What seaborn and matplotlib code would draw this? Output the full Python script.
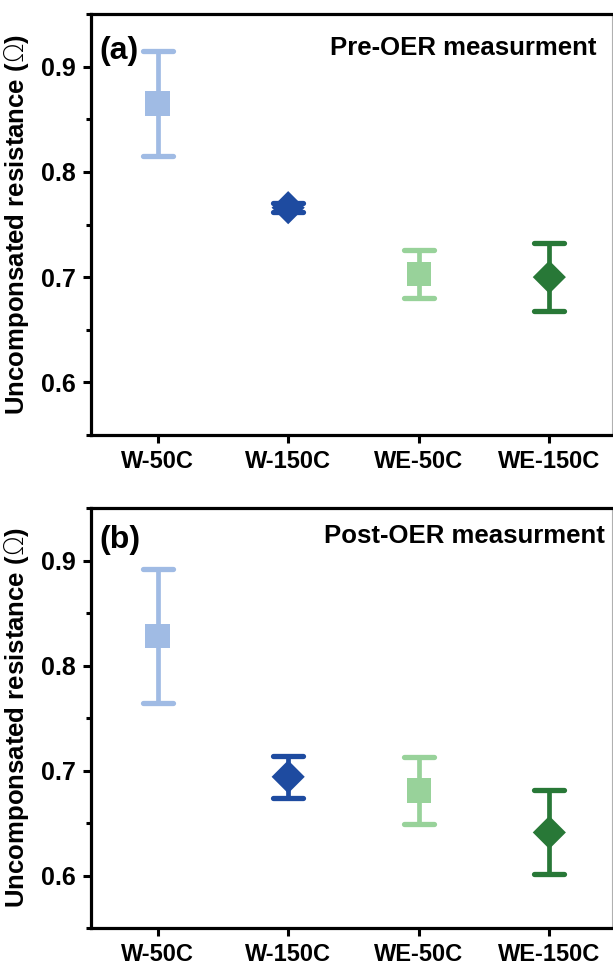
import matplotlib
matplotlib.use('Agg')
import matplotlib.pyplot as plt
import seaborn as sns
import pandas as pd
from matplotlib.markers import MarkerStyle
from matplotlib.ticker import MultipleLocator, FixedLocator

# ---- data ----
categories = ['W-50C', 'W-150C', 'WE-50C', 'WE-150C']
pre_mean = [0.865, 0.766, 0.703, 0.700]
pre_err = [0.050, 0.004, 0.023, 0.032]
post_mean = [0.828, 0.694, 0.681, 0.641]
post_err = [0.064, 0.020, 0.032, 0.040]
colors = ['#a0bbe4', '#1e4ba0', '#98d29a', '#287837']
markers = ['s', 'D', 's', 'D']
marker_area = [310, 285, 310, 285]
panel_labels = ['(a)', '(b)']
panel_titles = ['Pre-OER measurment', 'Post-OER measurment']
yticks = [0.6, 0.7, 0.8, 0.9]
ylabel = r'Uncomponsated resistance ($\mathrm{\Omega}$)'

sns.set_style('ticks')
plt.rcParams['font.family'] = ['Liberation Sans', 'DejaVu Sans']
plt.rcParams['font.weight'] = 'bold'
plt.rcParams['mathtext.fontset'] = 'custom'
plt.rcParams['mathtext.rm'] = 'DejaVu Sans:weight=light'
for k in ['text.color', 'axes.labelcolor', 'xtick.color', 'ytick.color', 'axes.edgecolor']:
    plt.rcParams[k] = 'black'

W, H = 613, 965
fig = plt.figure(figsize=(W / 100, H / 100), dpi=100)
ax1 = fig.add_axes([91 / W, 1 - 435 / H, (612 - 91) / W, (435 - 14) / H])
ax2 = fig.add_axes([91 / W, 1 - 928 / H, (612 - 91) / W, (928 - 508) / H])

panels = [
    (ax1, pre_mean, pre_err, panel_labels[0], panel_titles[0], (0.017, 0.913), (0.971, 0.919)),
    (ax2, post_mean, post_err, panel_labels[1], panel_titles[1], (0.017, 0.924), (0.987, 0.933)),
]

for ax, mean, err, plab, ptitle, plab_pos, ptitle_pos in panels:
    df = pd.DataFrame({'cat': categories, 'val': mean, 'err': err})
    sns.scatterplot(data=df, x='cat', y='val', hue='cat', style='cat', size='cat',
                    palette=colors, markers=markers,
                    sizes=dict(zip(categories, marker_area)),
                    linewidth=0, legend=False, ax=ax, zorder=3)
    for c, m, e, col in zip(categories, mean, err, colors):
        eb = ax.errorbar([c], [m], yerr=[e], fmt='none', ecolor=col,
                         elinewidth=3.4, capsize=10.8, capthick=3.8, zorder=2)
        for cl in eb[1]:
            cl.set_marker(MarkerStyle('_', capstyle='round'))
    ax.set_xlim(-0.51, 3.48)
    ax.set_ylim(0.55, 0.95)
    ax.yaxis.set_major_locator(FixedLocator(yticks))
    ax.yaxis.set_minor_locator(MultipleLocator(0.05))
    ax.tick_params(axis='both', which='major', direction='out', length=6, width=2.2,
                   labelsize=18, pad=5, color='black', labelcolor='black')
    ax.tick_params(axis='y', which='minor', direction='out', length=3.5, width=2.2, color='black')
    ax.tick_params(axis='x', which='minor', length=0)
    for lab in ax.get_xticklabels() + ax.get_yticklabels():
        lab.set_fontweight('bold')
    for lab in ax.get_xticklabels():
        lab.set_fontsize(17)
    for s in ['left', 'bottom', 'top']:
        ax.spines[s].set_linewidth(2.3)
        ax.spines[s].set_color('black')
    ax.spines['right'].set_linewidth(0.8)
    ax.spines['right'].set_color('#b0b0b0')
    ax.spines['top'].set_visible(True)
    ax.spines['right'].set_visible(True)
    ax.set_xlabel('')
    ax.set_ylabel(ylabel, fontsize=18.5, fontweight='bold', color='black')
    ax.yaxis.set_label_coords(-0.115, 0.5)
    ax.text(plab_pos[0], plab_pos[1], plab, transform=ax.transAxes, fontsize=23,
            fontweight='bold', ha='left', va='center', color='black')
    ax.text(ptitle_pos[0], ptitle_pos[1], ptitle, transform=ax.transAxes, fontsize=18.5,
            fontweight='bold', ha='right', va='center', color='black')

fig.savefig('out.png', dpi=100)
